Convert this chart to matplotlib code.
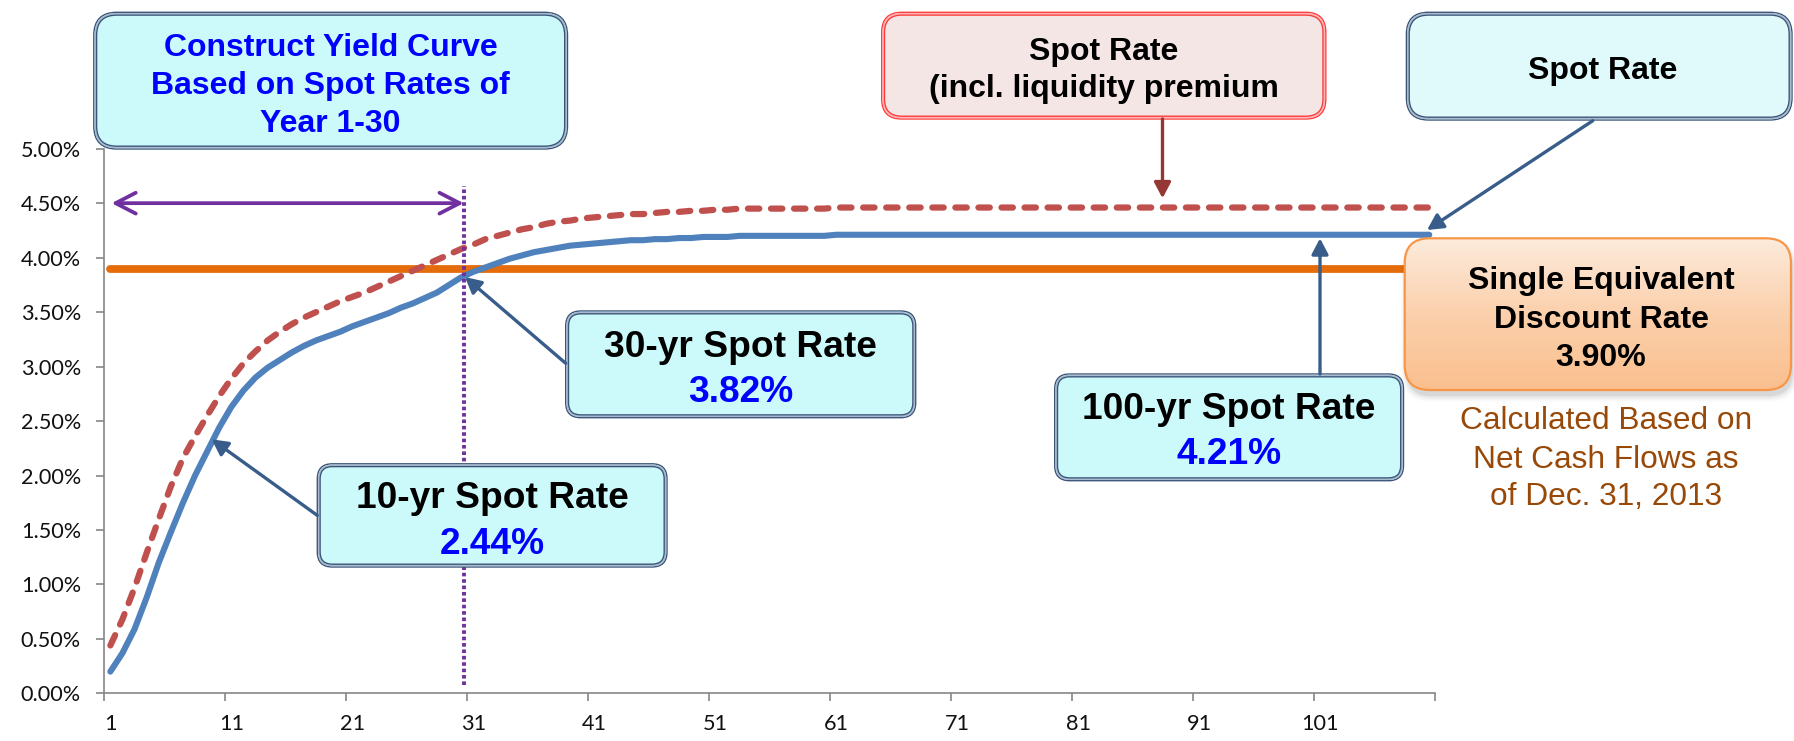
import matplotlib
matplotlib.use("Agg")
import matplotlib.pyplot as plt
import numpy as np
from matplotlib import font_manager
from matplotlib.patches import FancyBboxPatch, FancyArrowPatch
from matplotlib.colors import LinearSegmentedColormap

plt.rcParams["lines.scale_dashes"] = False

# ---------------- data ----------------
years = list(range(1, 111))

spot_rate = [
    0.20, 0.37, 0.59, 0.88, 1.20, 1.48, 1.75, 2.00, 2.22, 2.44,
    2.63, 2.78, 2.90, 2.99, 3.06, 3.13, 3.19, 3.24, 3.28, 3.32,
    3.37, 3.41, 3.45, 3.49, 3.54, 3.58, 3.63, 3.68, 3.75, 3.82,
    3.87, 3.91, 3.95, 3.99, 4.02, 4.05, 4.07, 4.09, 4.11, 4.12,
    4.13, 4.14, 4.15, 4.16, 4.16, 4.17, 4.17, 4.18, 4.18, 4.19,
    4.19, 4.19, 4.20, 4.20, 4.20, 4.20, 4.20, 4.20, 4.20, 4.20,
    4.21, 4.21, 4.21, 4.21, 4.21, 4.21, 4.21, 4.21, 4.21, 4.21,
    4.21, 4.21, 4.21, 4.21, 4.21, 4.21, 4.21, 4.21, 4.21, 4.21,
    4.21, 4.21, 4.21, 4.21, 4.21, 4.21, 4.21, 4.21, 4.21, 4.21,
    4.21, 4.21, 4.21, 4.21, 4.21, 4.21, 4.21, 4.21, 4.21, 4.21,
    4.21, 4.21, 4.21, 4.21, 4.21, 4.21, 4.21, 4.21, 4.21, 4.21,
]

spot_rate_liq = [
    0.44, 0.68, 0.97, 1.29, 1.60, 1.90, 2.16, 2.36, 2.55, 2.73,
    2.89, 3.03, 3.14, 3.24, 3.32, 3.39, 3.45, 3.50, 3.55, 3.60,
    3.64, 3.68, 3.73, 3.78, 3.83, 3.88, 3.93, 3.98, 4.03, 4.08,
    4.12, 4.17, 4.20, 4.23, 4.26, 4.28, 4.31, 4.33, 4.34, 4.36,
    4.37, 4.38, 4.39, 4.40, 4.40, 4.41, 4.42, 4.42, 4.43, 4.43,
    4.44, 4.44, 4.45, 4.45, 4.45, 4.45, 4.45, 4.45, 4.45, 4.45,
    4.46, 4.46, 4.46, 4.46, 4.46, 4.46, 4.46, 4.46, 4.46, 4.46,
    4.46, 4.46, 4.46, 4.46, 4.46, 4.46, 4.46, 4.46, 4.46, 4.46,
    4.46, 4.46, 4.46, 4.46, 4.46, 4.46, 4.46, 4.46, 4.46, 4.46,
    4.46, 4.46, 4.46, 4.46, 4.46, 4.46, 4.46, 4.46, 4.46, 4.46,
    4.46, 4.46, 4.46, 4.46, 4.46, 4.46, 4.46, 4.46, 4.46, 4.46,
]

single_equiv_rate = 3.90

y_ticks = [0.0, 0.5, 1.0, 1.5, 2.0, 2.5, 3.0, 3.5, 4.0, 4.5, 5.0]
x_label_years = [1, 11, 21, 31, 41, 51, 61, 71, 81, 91, 101]
x_tick_labels = ["1", "11", "21", "31", "41", "51", "61", "71", "81", "91", "101"]
x_boundaries = [0.5, 10.5, 20.5, 30.5, 40.5, 50.5, 60.5, 70.5, 80.5, 90.5, 100.5, 110.5]

bracket_years = (1.1, 30.2)     # purple "Year 1-30" span
bracket_level = 4.5
marker_year = 30.2              # dotted vertical marker
marker_range = (0.08, 4.66)

# ---------------- figure ----------------
W, H = 1794, 741
fig = plt.figure(figsize=(W / 100, H / 100), dpi=100)
fig.patch.set_facecolor("white")

names = {f.name for f in font_manager.fontManager.ttflist}
if "Liberation Sans Narrow" in names:
    tick_family, tick_size = "Liberation Sans Narrow", 17.2
else:
    tick_family, tick_size = "Lato", 15.6
box_font = "Liberation Sans"

x_left, x_right = 104.3, 1435.3
y_top, y_bot = 148.7, 693.4
ax = fig.add_axes([x_left / W, 1 - y_bot / H, (x_right - x_left) / W, (y_bot - y_top) / H])
ax.set_xlim(0.5, 110.5)
ax.set_ylim(0, 5)
for s in ["top", "right"]:
    ax.spines[s].set_visible(False)
for s in ["left", "bottom"]:
    ax.spines[s].set_color("#868686")
    ax.spines[s].set_linewidth(1.2)

ax.set_yticks(y_ticks)
ax.set_yticklabels([f"{v:.2f}%" for v in y_ticks], family=tick_family, fontsize=tick_size, color="#111111")
ax.tick_params(axis="y", length=5.8, width=1.2, color="#868686", pad=11)

ax.set_xticks(x_label_years)
ax.set_xticklabels(x_tick_labels, family=tick_family, fontsize=tick_size, color="#111111")
ax.set_xticks(x_boundaries, minor=True)
ax.tick_params(axis="x", which="major", length=0, pad=15)
ax.tick_params(axis="x", which="minor", length=5.8, width=1.2, color="#868686")

# lines
ax.plot([years[0], years[-1]], [single_equiv_rate, single_equiv_rate], color="#E46C0A",
        lw=5.6, solid_capstyle="round", zorder=2)
ax.plot(years, spot_rate_liq, color="#C0504D", lw=4.5, dashes=(8.2, 8.4),
        dash_capstyle="round", zorder=3)
ax.plot(years, spot_rate, color="#4F81BD", lw=4.4, solid_capstyle="round",
        solid_joinstyle="round", zorder=4)
ax.plot([marker_year, marker_year], list(marker_range), color="#7030A0", lw=2.8,
        dashes=(2.6, 2.0), dash_capstyle="butt", zorder=5)
ax.annotate("", xy=(bracket_years[1], bracket_level), xytext=(bracket_years[0], bracket_level),
            arrowprops=dict(arrowstyle="<->,head_length=1.45,head_width=0.75", mutation_scale=10,
                            lw=2.7, color="#7030A0", shrinkA=0, shrinkB=0), zorder=5)

# ---------------- overlay for annotation boxes (pixel coords, y down) ----------------
ov = fig.add_axes([0, 0, 1, 1])
ov.set_autoscale_on(False)
ov.set_xlim(0, W)
ov.set_ylim(H, 0)
ov.axis("off")
ov.patch.set_visible(False)


def rbox(x0, y0, x1, y1, r, fc, ec, mid=None, lw=1.0, z=2):
    w, h = x1 - x0, y1 - y0
    p = FancyBboxPatch((x0, y0), w, h, boxstyle=f"round,pad=0,rounding_size={r}",
                       fc=fc, ec=ec, lw=lw, zorder=z)
    ov.add_patch(p)
    if mid is not None:
        d = 2.8
        ov.add_patch(FancyBboxPatch((x0 + d / 2, y0 + d / 2), w - d, h - d,
                                    boxstyle=f"round,pad=0,rounding_size={r - d / 2}",
                                    fc="none", ec=mid, lw=1.1, zorder=z + 0.1))
        ov.add_patch(FancyBboxPatch((x0 + d, y0 + d), w - 2 * d, h - 2 * d,
                                    boxstyle=f"round,pad=0,rounding_size={r - d}",
                                    fc="none", ec=ec, lw=lw, zorder=z + 0.2))
    return p


def txt(x, yc, s, size, color="black", weight="bold"):
    cap = 0.716 * size / 0.72
    ov.text(x, yc + cap / 2, s, ha="center", va="baseline", fontsize=size,
            fontweight=weight, family=box_font, color=color, zorder=6)


def arrow(p0, p1, color="#385D8A"):
    a = FancyArrowPatch(p0, p1, arrowstyle="-|>,head_length=0.95,head_width=0.5",
                        mutation_scale=10, lw=2.4, color=color, shrinkA=0, shrinkB=0, zorder=5)
    ov.add_patch(a)


cyan_ec, cyan_mid = "#3B5478", "#A9B9CE"

# Construct yield curve box
rbox(93.8, 12.3, 567.5, 149.0, 23, "#CCF9FA", cyan_ec, cyan_mid)
txt(330.7, 44.5, "Construct Yield Curve", 23, "#0000FF")
txt(330.7, 82.3, "Based on Spot Rates of", 23, "#0000FF")
txt(330.7, 120.3, "Year 1-30", 23, "#0000FF")

# Spot rate incl. liquidity premium
rbox(881.7, 12.3, 1325.8, 119.0, 20, "#F5E6E6", "#FF3B3B", "#FFB3B3")
txt(1103.8, 48.3, "Spot Rate", 23)
txt(1103.8, 86.0, "(incl. liquidity premium", 23)
arrow((1162.5, 119.0), (1162.5, 198.3), color="#953735")

# Spot Rate (right)
rbox(1406.4, 12.3, 1792.0, 120.0, 22, "#E0FAFB", cyan_ec, cyan_mid)
txt(1602.7, 67.5, "Spot Rate", 23)
arrow((1592.8, 120.7), (1427.0, 230.0))

# Single equivalent discount rate (orange gradient with shadow)
for i, a in enumerate([0.05, 0.04, 0.03, 0.02, 0.012]):
    e = i * 1.6
    ov.add_patch(FancyBboxPatch((1404.7 + 2 - e, 238.3 + 6 - e), 386.3 + 2 * e, 151.7 + 2 * e,
                                boxstyle=f"round,pad=0,rounding_size={25 + e}",
                                fc="black", ec="none", alpha=a, zorder=1.5))
obox = rbox(1404.7, 238.3, 1791.0, 390.0, 25, "none", "#F79646", None, lw=1.6, z=2.5)
cmap = LinearSegmentedColormap.from_list("og", ["#FDEBDC", "#FBD0AC", "#FABF8E"])
grad = np.linspace(0, 1, 256).reshape(-1, 1)
im = ov.imshow(grad, extent=(1404.7, 1791.0, 390.0, 238.3), origin="upper", aspect="auto",
               cmap=cmap, interpolation="bilinear", zorder=2.2)
im.set_clip_path(obox)
txt(1601, 277.5, "Single Equivalent", 23)
txt(1601, 316.7, "Discount Rate", 23)
txt(1601, 354.8, "3.90%", 23)

txt(1606, 418.0, "Calculated Based on", 22.8, "#984807", "normal")
txt(1606, 456.5, "Net Cash Flows as", 22.8, "#984807", "normal")
txt(1606, 494.0, "of Dec. 31, 2013", 22.8, "#984807", "normal")

# 30-yr
rbox(565.7, 311.0, 915.7, 417.7, 15, "#CCF9FA", cyan_ec, cyan_mid)
txt(740.5, 343.3, "30-yr Spot Rate", 26.7)
txt(740.5, 388.7, "3.82%", 26.7, "#0000FF")
arrow((565.7, 363.3), (465.0, 277.0))

# 10-yr
rbox(317.3, 463.8, 667.0, 567.0, 15, "#CCF9FA", cyan_ec, cyan_mid)
txt(492.2, 494.5, "10-yr Spot Rate", 26.7)
txt(492.2, 540.3, "2.44%", 26.7, "#0000FF")
arrow((317.3, 515.4), (211.7, 439.3))

# 100-yr
rbox(1054.7, 374.0, 1403.5, 480.7, 15, "#CCF9FA", cyan_ec, cyan_mid)
txt(1229, 406.0, "100-yr Spot Rate", 26.7)
txt(1229, 450.8, "4.21%", 26.7, "#0000FF")
arrow((1320.0, 374.0), (1320.0, 238.3))

fig.savefig("out.png", dpi=100, facecolor="white")
